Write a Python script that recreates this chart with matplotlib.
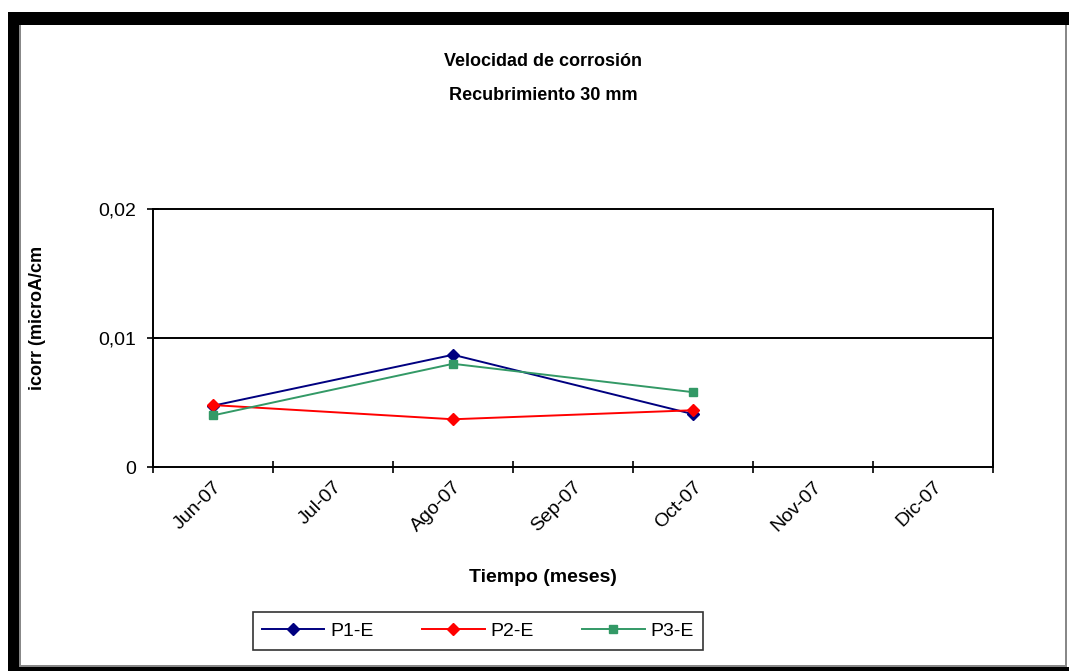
import matplotlib
matplotlib.use('Agg')
import matplotlib.pyplot as plt
from matplotlib.patches import Rectangle

plt.rcParams['font.family'] = ['Liberation Sans Narrow', 'Liberation Sans', 'DejaVu Sans']

months = ['Jun-07', 'Jul-07', 'Ago-07', 'Sep-07', 'Oct-07', 'Nov-07', 'Dic-07']
measured = ['Jun-07', 'Ago-07', 'Oct-07']
p1 = [0.00475, 0.0087, 0.0041]
p2 = [0.0048, 0.0037, 0.0044]
p3 = [0.0040, 0.0080, 0.0058]
yticks = [0, 0.01, 0.02]
ylabels = ['0', '0,01', '0,02']

W, H = 1069, 671
fig = plt.figure(figsize=(W / 100, H / 100), dpi=100)
fig.patch.set_facecolor('white')

def px(x0, y0, x1, y1, color):
    # rectangle in pixel coords (origin top-left)
    fig.patches.append(Rectangle((x0 / W, 1 - y1 / H), (x1 - x0) / W, (y1 - y0) / H,
                                 transform=fig.transFigure, facecolor=color,
                                 edgecolor='none', zorder=0))

# black frame around the chart
px(8, 12, W, 25, 'black')
px(8, 12, 19, H, 'black')
px(8, 667, W, H, 'black')
px(19, 25, 21, 667, '#888888')
px(19, 665, 1066, 667, '#888888')
px(1065, 25, 1067, 667, '#888888')

ax = fig.add_axes([153 / W, 1 - 467 / H, (993 - 153) / W, (467 - 209) / H])

xpos = [months.index(m) + 0.5 for m in measured]
ax.plot(xpos, p1, color='#000080', marker='D', markersize=6, lw=1.4, label='P1-E', zorder=3)
ax.plot(xpos, p2, color='#FF0000', marker='D', markersize=6, lw=1.4, label='P2-E', zorder=3)
ax.plot(xpos, p3, color='#339966', marker='s', markersize=6, lw=1.4, label='P3-E', zorder=3)

ax.set_xlim(0, len(months))
ax.set_ylim(0, 0.02)
ax.set_yticks(yticks)
ax.set_yticklabels(ylabels, fontsize=14)
ax.set_xticks(range(len(months) + 1))
ax.set_xticklabels([])
ax.set_xticks([i + 0.5 for i in range(len(months))], minor=True)
ax.set_xticklabels(months, minor=True, rotation=45, ha='right', va='top',
                   rotation_mode='anchor', fontsize=14)
ax.tick_params(axis='x', which='minor', length=0, pad=8)
ax.tick_params(axis='x', which='major', direction='inout', length=9, width=1.2)
ax.tick_params(axis='y', direction='inout', length=9, width=1.2, pad=8)

for y in yticks[1:]:
    ax.axhline(y, color='black', lw=1.4, zorder=1, clip_on=False)
for s in ['left', 'bottom', 'right']:
    ax.spines[s].set_linewidth(1.4)
ax.spines['top'].set_visible(False)

fig.text(543 / W, 1 - 62 / H, 'Velocidad de corrosión', ha='center', va='center',
         fontsize=13, fontweight='bold')
fig.text(543 / W, 1 - 96 / H, 'Recubrimiento 30 mm', ha='center', va='center',
         fontsize=13, fontweight='bold')
fig.text(543 / W, 1 - 577 / H, 'Tiempo (meses)', ha='center', va='center',
         fontsize=14, fontweight='bold')
fig.text(38 / W, 1 - 318 / H, 'icorr (microA/cm', ha='center', va='center',
         rotation=90, fontsize=13, fontweight='bold')

leg = fig.legend(loc='center', bbox_to_anchor=(478 / W, 1 - 631 / H), ncol=3,
                 frameon=True, fancybox=False, edgecolor='black', fontsize=14,
                 handlelength=3.2, columnspacing=2.5, borderpad=0.5, handletextpad=0.3)
leg.get_frame().set_linewidth(1.2)

fig.savefig('out.png', dpi=100)
